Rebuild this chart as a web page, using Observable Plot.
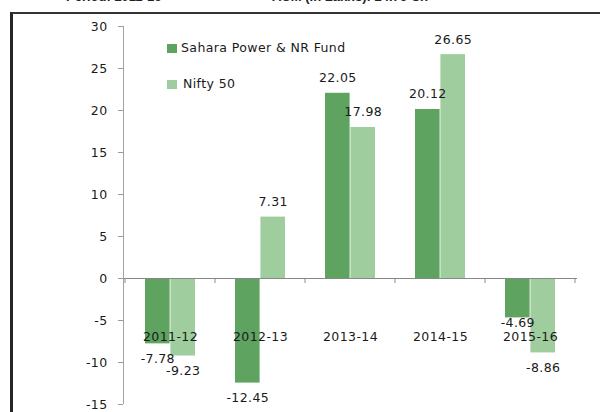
<!DOCTYPE html>
<html>
<head>
<meta charset="utf-8">
<script src="https://cdn.jsdelivr.net/npm/d3@7"></script>
<script src="https://cdn.jsdelivr.net/npm/@observablehq/plot@0.6"></script>
<style>
  html, body { margin: 0; padding: 0; background: #fff; }
  #wrap { position: relative; width: 600px; height: 412px; overflow: hidden; background: #fff; font-family: "DejaVu Sans", Verdana, sans-serif; }
  #chart { position: absolute; left: 0; top: 0; }
  #border { position: absolute; left: 10px; top: 12px; width: 700px; height: 600px; border-left: 3px solid #262626; border-top: 2px solid #333; box-sizing: border-box; pointer-events: none; }
  .frag { position: absolute; top: -10px; font: bold 13px "Liberation Sans", Arial, sans-serif; line-height: 13px; color: #222; white-space: nowrap; }
  .leg { position: absolute; font-size: 12.5px; letter-spacing: 0.4px; color: #1a1a1a; line-height: 14px; white-space: nowrap; }
  .sw { position: absolute; width: 10px; height: 9px; }
</style>
</head>
<body>
<div id="wrap">
  <div id="chart"></div>
  <div class="frag" style="left:66px">Period: 2011-16</div>
  <div class="frag" style="left:272px">AUM (in Lakhs): 24.76 Cr.</div>
  <div id="legend"></div>
  <div id="border"></div>
</div>
<script>
const categories = ["2011-12", "2012-13", "2013-14", "2014-15", "2015-16"];
const seriesNames = ["Sahara Power & NR Fund", "Nifty 50"];
const fundValues = [-7.78, -12.45, 22.05, 20.12, -4.69];
const niftyValues = [-9.23, 7.31, 17.98, 26.65, -8.86];
const yTicks = [-15, -10, -5, 0, 5, 10, 15, 20, 25, 30];
const colors = ["#5ea360", "#a0cd9e"];

const data = categories.flatMap((c, i) => [
  {cat: c, series: seriesNames[0], value: fundValues[i]},
  {cat: c, series: seriesNames[1], value: niftyValues[i]}
]);

const W = 600, H = 412, mL = 123, mR = 23, mT = 26, mB = 8;
const bw = (W - mL - mR) / categories.length;
const barW = 25.4;
const inset = [
  {insetLeft: bw / 2 - barW, insetRight: bw / 2},
  {insetLeft: bw / 2, insetRight: bw / 2 - barW}
];
const textColor = "#1a1a1a";

const marks = [];
seriesNames.forEach((s, k) => {
  const sub = data.filter(d => d.series === s);
  marks.push(Plot.barY(sub, {x: "cat", y: "value", fill: colors[k], ...inset[k]}));
});
marks.push(Plot.ruleY([0], {stroke: "#878787", strokeWidth: 1}));
seriesNames.forEach((s, k) => {
  const sub = data.filter(d => d.series === s);
  const dx = (k === 0 ? -1 : 1) * barW / 2;
  const fmt = d => d.value.toFixed(2);
  marks.push(Plot.text(sub.filter(d => d.value >= 0), {x: "cat", y: "value", text: fmt, dx, dy: -15, lineAnchor: "middle", fill: textColor}));
  marks.push(Plot.text(sub.filter(d => d.value < 0 && d.value <= -6), {x: "cat", y: "value", text: fmt, dx, dy: 15, lineAnchor: "middle", fill: textColor}));
  marks.push(Plot.text(sub.filter(d => d.value < 0 && d.value > -6), {x: "cat", y: "value", text: fmt, dx, dy: 5, lineAnchor: "middle", fill: textColor}));
});
marks.push(Plot.axisY({ticks: yTicks, tickSize: 5, tickPadding: 11, stroke: "#9a9a9a", fill: textColor, tickFormat: d => String(d), label: null}));
marks.push(Plot.axisX({anchor: "bottom", tickSize: 0, tickPadding: 0, dy: -72, fill: textColor, label: null}));

const chart = Plot.plot({
  width: W, height: H,
  marginLeft: mL, marginRight: mR, marginTop: mT, marginBottom: mB,
  x: {domain: categories, padding: 0, axis: null, label: null},
  y: {domain: [-15, 30], axis: null, label: null},
  style: {background: "transparent", fontFamily: "'DejaVu Sans', Verdana, sans-serif", fontSize: "12.5px", letterSpacing: "0.4px", color: textColor},
  marks
});

// axis line and category boundary ticks, from the library's scales
const sx = chart.scale("x"), sy = chart.scale("y");
const g = d3.select(chart).append("g").attr("stroke", "#8a8a8a").attr("stroke-width", 1);
const y0 = sy.apply(0);
const x0 = sx.range[0];
g.append("line").attr("x1", x0 + 0.5).attr("x2", x0 + 0.5)
  .attr("y1", sy.apply(yTicks[yTicks.length - 1])).attr("y2", sy.apply(yTicks[0])).attr("stroke", "#a3a3a3");
const bounds = categories.map(c => sx.apply(c)).concat([sx.apply(categories[categories.length - 1]) + sx.bandwidth]);
bounds.forEach(b => {
  g.append("line").attr("x1", b).attr("x2", b).attr("y1", y0).attr("y2", y0 + 5);
});
document.getElementById("chart").appendChild(chart);

// legend
const leg = document.getElementById("legend");
const legTop = [43, 79];
seriesNames.forEach((s, k) => {
  const sw = document.createElement("div");
  sw.className = "sw";
  sw.style.left = "167px"; sw.style.top = (legTop[k] + 1) + "px"; sw.style.background = colors[k];
  leg.appendChild(sw);
  const t = document.createElement("div");
  t.className = "leg";
  t.style.left = (k === 0 ? 181 : 183) + "px"; t.style.top = (legTop[k] - 2) + "px";
  t.textContent = s;
  leg.appendChild(t);
});
</script>
</body>
</html>
